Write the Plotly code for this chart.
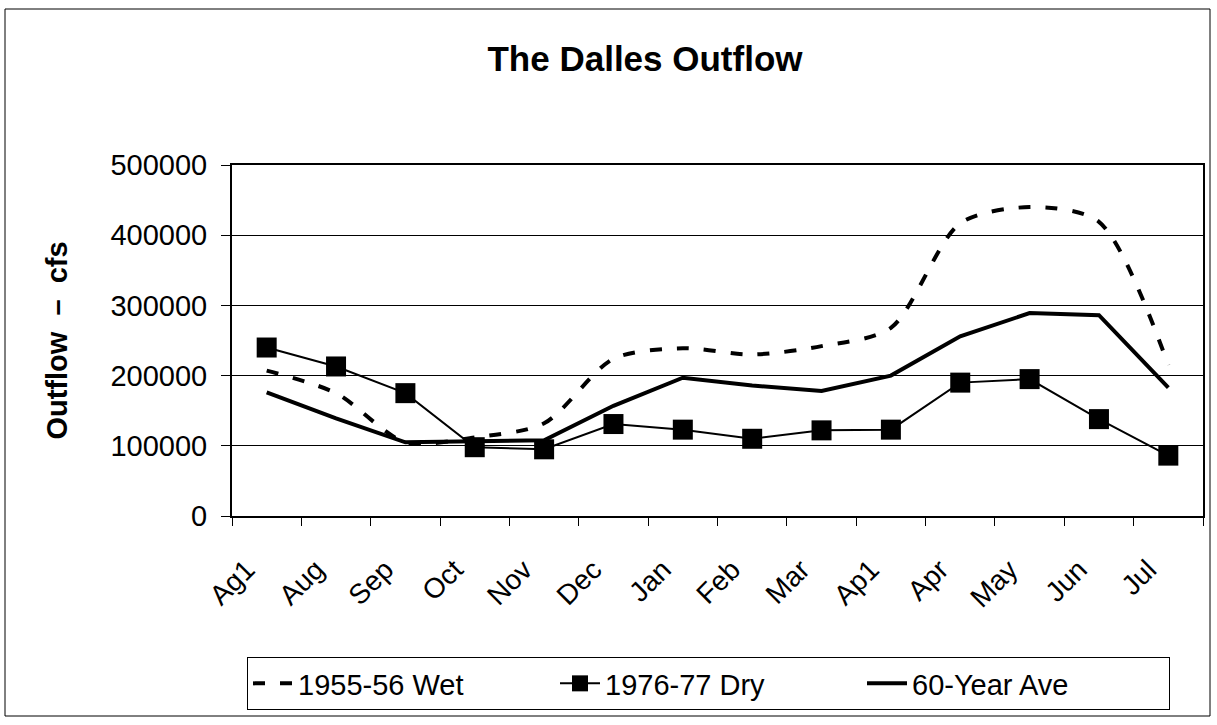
import plotly.graph_objects as go

categories = ["Ag1", "Aug", "Sep", "Oct", "Nov", "Dec", "Jan", "Feb", "Mar", "Ap1", "Apr", "May", "Jun", "Jul"]
wet_1955_56 = [207000, 175000, 105000, 112000, 132000, 224000, 239000, 230000, 242000, 268000, 417000, 440000, 419000, 215000]
dry_1976_77 = [240000, 213000, 175000, 98000, 95000, 131000, 123000, 110000, 122000, 123000, 190000, 195000, 138000, 86000]
ave_60_year = [176000, 139000, 105000, 106000, 108000, 157000, 197000, 186000, 178000, 200000, 256000, 289000, 286000, 183000]
y_ticks = [0, 100000, 200000, 300000, 400000, 500000]

FONT = "Liberation Sans, Arial, sans-serif"

fig = go.Figure()
fig.add_trace(go.Scatter(
    x=categories, y=wet_1955_56, name="1955-56 Wet", mode="lines",
    line=dict(color="black", width=4, dash="12px,15px", shape="spline", smoothing=0.8),
))
fig.add_trace(go.Scatter(
    x=categories, y=dry_1976_77, name="1976-77 Dry", mode="lines+markers",
    line=dict(color="black", width=2),
    marker=dict(symbol="square", size=20, color="black"),
))
fig.add_trace(go.Scatter(
    x=categories, y=ave_60_year, name="60-Year Ave", mode="lines",
    line=dict(color="black", width=4),
))

L, R, T, B = 232, 14, 165, 209
W, H = 1217, 725
pw = W - L - R
ph = H - T - B

def px_x(x):
    return (x - L) / pw

def px_y(y):
    return (H - B - y) / ph

fig.update_layout(
    width=W, height=H,
    margin=dict(l=L, r=R, t=T, b=B, autoexpand=False),
    paper_bgcolor="white", plot_bgcolor="white",
    font=dict(family=FONT, size=28, color="black"),
    title=dict(text="<b>The Dalles Outflow</b>", x=645 / W, xanchor="center",
               y=1 - 59 / H, yanchor="middle",
               font=dict(family=FONT, size=35, color="black")),
    showlegend=True,
    legend=dict(orientation="h", x=px_x(247), xanchor="left",
                y=px_y(657), yanchor="top",
                bordercolor="black", borderwidth=1, bgcolor="white",
                font=dict(family=FONT, size=29, color="black"),
                entrywidth=252, entrywidthmode="pixels",
                itemwidth=40, tracegroupgap=0),
    xaxis=dict(
        type="category", tickangle=-45, showgrid=False, automargin=False,
        showline=True, linecolor="black", linewidth=2, mirror=True,
        ticks="outside", ticklen=8, tickcolor="black", tickson="boundaries",
        ticklabelstandoff=24, ticklabelshift=-20,
        tickfont=dict(family=FONT, size=28, color="black"),
        range=[-0.5, len(categories) - 0.5],
    ),
    yaxis=dict(
        range=[0, 500000], tickvals=y_ticks, ticktext=[str(v) for v in y_ticks],
        automargin=False,
        showgrid=True, gridcolor="black", gridwidth=1,
        showline=True, linecolor="black", linewidth=2, mirror=True,
        ticks="outside", ticklen=9, tickcolor="black",
        ticklabelstandoff=8,
        tickfont=dict(family=FONT, size=29, color="black"),
        title=dict(text="<b>Outflow&nbsp;&nbsp;–&nbsp;&nbsp;cfs</b>", standoff=34,
                   font=dict(family=FONT, size=29, color="black")),
        zeroline=False,
    ),
    shapes=[dict(type="rect", xref="paper", yref="paper",
                 x0=px_x(5), x1=px_x(1210), y0=px_y(716), y1=px_y(9),
                 line=dict(color="black", width=1), fillcolor="rgba(0,0,0,0)",
                 layer="below")],
)

fig.write_html("out.html", post_script="document.body.style.margin='0';",
               config={"displayModeBar": False})
